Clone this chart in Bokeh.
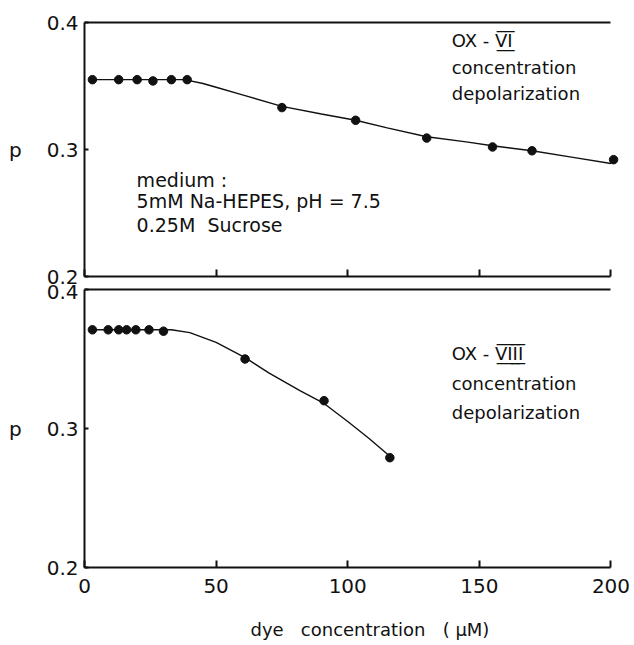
from bokeh.plotting import figure
from bokeh.models import Range1d, FixedTicker, LinearAxis, Label, Title
from bokeh.layouts import column
from bokeh.embed import file_html
from bokeh.resources import INLINE

# ---- data ----
# OX-VI panel
vi_x = [3, 13, 20, 26, 33, 39, 75, 103, 130, 155, 170, 201]
vi_p = [0.355, 0.355, 0.355, 0.354, 0.355, 0.355, 0.333, 0.323, 0.309, 0.302, 0.299, 0.292]
vi_fit_x = [3, 38, 45, 50, 60, 75, 90, 103, 115, 130, 145, 155, 170, 185, 200]
vi_fit_p = [0.355, 0.355, 0.352, 0.349, 0.343, 0.334, 0.328, 0.323, 0.317, 0.310, 0.306, 0.303, 0.299, 0.294, 0.289]

# OX-VIII panel
viii_x = [3, 9, 13, 16, 19.5, 24.5, 30, 61, 91, 116]
viii_p = [0.371, 0.371, 0.371, 0.371, 0.371, 0.371, 0.370, 0.350, 0.320, 0.279]
viii_fit_x = [3, 33, 40, 50, 61, 70, 82, 91, 100, 108, 116]
viii_fit_p = [0.371, 0.371, 0.369, 0.362, 0.351, 0.340, 0.327, 0.318, 0.305, 0.293, 0.280]

x_ticks = [0, 50, 100, 150, 200]
y_ticks = [0.2, 0.3, 0.4]

FONT = "DejaVu Sans"
INK = "#111111"
NB = "\u00a0"


def make_panel(frame_h, top_b, bottom_b, show_xlabels):
    p = figure(frame_width=537, frame_height=frame_h,
               x_range=Range1d(0, 204), y_range=Range1d(0.2, 0.4),
               x_axis_type=None, y_axis_type=None,
               output_backend="svg", toolbar_location=None,
               min_border_left=84, min_border_right=13,
               min_border_top=top_b, min_border_bottom=bottom_b,
               background_fill_color="white", border_fill_color="white",
               outline_line_color=None)
    yax = LinearAxis(ticker=FixedTicker(ticks=y_ticks), bounds=(0.2, 0.4),
                     axis_label="p", axis_label_orientation="horizontal",
                     axis_label_text_font=FONT, axis_label_text_font_size="20px",
                     axis_label_text_font_style="normal", axis_label_text_color=INK,
                     axis_label_standoff=22,
                     major_label_text_font=FONT, major_label_text_font_size="20px",
                     major_label_text_color=INK, major_label_standoff=6,
                     major_tick_in=4, major_tick_out=0, minor_tick_line_color=None,
                     axis_line_width=2, axis_line_color=INK, major_tick_line_width=2,
                     major_tick_line_color=INK)
    p.add_layout(yax, "left")
    xax = LinearAxis(ticker=FixedTicker(ticks=x_ticks), bounds=(0, 200),
                     major_tick_in=7, major_tick_out=0, minor_tick_line_color=None,
                     axis_line_width=2, axis_line_color=INK, major_tick_line_width=2,
                     major_tick_line_color=INK,
                     major_label_text_font=FONT, major_label_text_color=INK,
                     major_label_text_font_size="20px" if show_xlabels else "0px",
                     major_label_standoff=11 if show_xlabels else 0)
    p.add_layout(xax, "below")
    tax = LinearAxis(ticker=FixedTicker(ticks=[]), bounds=(0, 200),
                     major_label_text_font_size="0px", major_label_standoff=0,
                     major_tick_in=0, major_tick_out=0, minor_tick_line_color=None,
                     axis_line_width=2, axis_line_color=INK)
    p.add_layout(tax, "above")
    return p


def add_text(p, x, y, txt, size):
    p.add_layout(Label(x=x, y=y, text=txt, text_font=FONT, text_font_size=size,
                       text_color=INK, text_baseline="middle", text_align="left"))


# top panel
top = make_panel(254, 22, 8, False)
top.line(vi_fit_x, vi_fit_p, line_color=INK, line_width=1.4)
top.scatter(vi_x, vi_p, size=8.5, color=INK)
add_text(top, 139.5, 0.3858, "OX - V\u0305\u0332I\u0305\u0332", "18px")
add_text(top, 139.5, 0.3646, "concentration", "18px")
add_text(top, 139.5, 0.3441, "depolarization", "18px")
add_text(top, 19.8, 0.2756, "medium :", "19px")
add_text(top, 19.8, 0.2591, "5mM Na-HEPES, pH = 7.5", "19px")
add_text(top, 19.8, 0.2409, "0.25M" + NB * 2 + "Sucrose", "19px")

# bottom panel
bot = make_panel(278, 5, 0, True)
bot.line(viii_fit_x, viii_fit_p, line_color=INK, line_width=1.4)
bot.scatter(viii_x, viii_p, size=8.5, color=INK)
add_text(bot, 139.5, 0.3540, "OX - V\u0305\u0332I\u0305\u0332I\u0305\u0332I\u0305\u0332", "18px")
add_text(bot, 139.5, 0.3324, "concentration", "18px")
add_text(bot, 139.5, 0.3115, "depolarization", "18px")

bot.add_layout(Title(text="dye" + NB * 3 + "concentration" + NB * 3 + "(" + NB + "\u03bcM)",
                     align="left", offset=166,
                     text_font=FONT, text_font_size="18px", text_font_style="normal",
                     text_color=INK, standoff=42), "below")

layout = column(top, bot, spacing=0)
open("out.html", "w").write(file_html(layout, INLINE))
